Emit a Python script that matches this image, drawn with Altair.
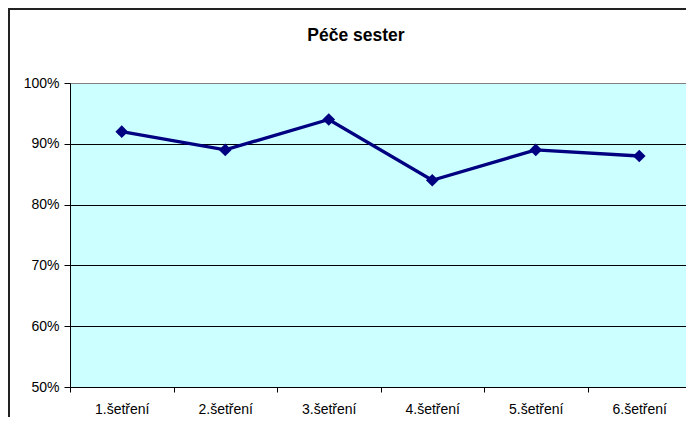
import altair as alt
import pandas as pd

categories = ["1.šetření", "2.šetření", "3.šetření", "4.šetření", "5.šetření", "6.šetření"]
values = [0.92, 0.89, 0.94, 0.84, 0.89, 0.88]
y_ticks = [0.5, 0.6, 0.7, 0.8, 0.9, 1.0]
title_text = "Péče sester"

df = pd.DataFrame({"kategorie": categories, "hodnota": values})

FONT = "Liberation Sans"
W, H = 621, 304

x_enc = alt.X(
    "kategorie:N",
    sort=categories,
    bandPosition=0.5,
    scale=alt.Scale(type="band", paddingInner=0, paddingOuter=0),
    axis=alt.Axis(
        title=None,
        labelAngle=0,
        labelFont=FONT,
        labelFontSize=14,
        labelColor="black",
        labelPadding=10,
        tickBand="extent",
        tickSize=5,
        tickColor="black",
        domainColor="black",
        grid=False,
    ),
)

y_enc = alt.Y(
    "hodnota:Q",
    scale=alt.Scale(domain=[0.5, 1.0], nice=False, zero=False),
    axis=alt.Axis(
        title=None,
        values=y_ticks,
        format=".0%",
        labelFont=FONT,
        labelFontSize=14,
        labelColor="black",
        labelPadding=5,
        tickSize=6,
        tickColor="black",
        domainColor="black",
        grid=True,
        gridColor={"condition": {"test": "datum.value >= 1", "value": "#808080"}, "value": "black"},
        gridWidth=1,
    ),
)

one = alt.Data(values=[{"t": title_text}])

border_top = alt.Chart(one).mark_rule(
    color="#222222", strokeWidth=2, clip=False
).encode(
    x=alt.value(-62),
    x2=alt.value(W),
    y=alt.value(-74),
)

border_left = alt.Chart(one).mark_rule(
    color="#222222", strokeWidth=2, clip=False
).encode(
    x=alt.value(-61),
    y=alt.value(-75),
    y2=alt.value(H + 30),
)

title = alt.Chart(one).mark_text(
    font=FONT, fontSize=17.5, fontWeight="bold", color="black",
    align="center", baseline="alphabetic", clip=False,
).encode(
    text="t:N",
    x=alt.value(286),
    y=alt.value(-42),
)

line = alt.Chart(df).mark_line(
    color="#000080",
    strokeWidth=3.4,
    point=alt.OverlayMarkDef(shape="diamond", size=160, filled=True, color="#000080", opacity=1),
).encode(x=x_enc, y=y_enc)

chart = alt.layer(border_top, border_left, title, line).properties(
    width=W,
    height=H,
    autosize=alt.AutoSizeParams(type="none"),
    padding={"left": 62, "top": 75, "right": -5, "bottom": 30},
).configure(
    background="white",
    view=alt.ViewConfig(fill="#CCFFFF", stroke="#808080", strokeWidth=1),
)

chart.save("out.html", embed_options={"renderer": "svg", "actions": False})
